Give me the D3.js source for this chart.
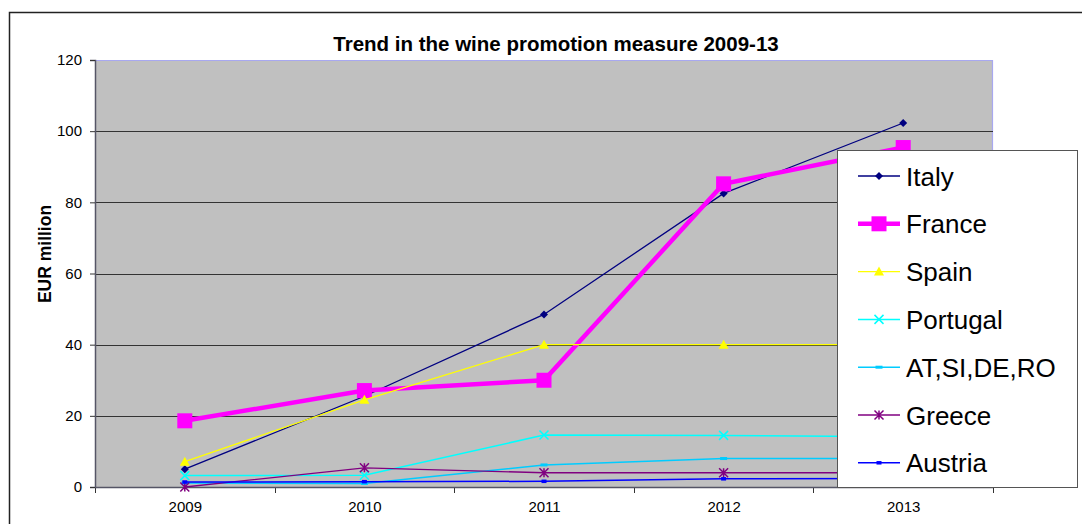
<!DOCTYPE html>
<html><head><meta charset="utf-8">
<script src="https://cdn.jsdelivr.net/npm/d3@7"></script>
<style>
html,body{margin:0;padding:0;background:#fff;overflow:hidden}
svg{display:block;font-family:"Liberation Sans",Arial,sans-serif}
</style></head>
<body><svg id="chart" width="1082" height="524"></svg>
<script>
const years = ["2009","2010","2011","2012","2013"];
const yTicks = [0,20,40,60,80,100,120];
const seriesNames = ["Italy","France","Spain","Portugal","AT,SI,DE,RO","Greece","Austria"];
const italy    = [5.0, 25.5, 48.5, 82.5, 102.3];
const france   = [18.6, 27.1, 30.0, 85.2, 95.4];
const spain    = [7.1, 24.5, 40.0, 40.0, 40.0];
const portugal = [3.2, 3.3, 14.6, 14.5, 14.1];
const atSiDeRo = [1.1, 1.0, 6.2, 8.0, 8.0];
const greece   = [0.0, 5.4, 4.0, 4.0, 4.0];
const austria  = [1.4, 1.5, 1.6, 2.3, 2.4];

const styles = {
  "Italy":       {color:"#000080", width:1.3, marker:"diamond", size:8},
  "France":      {color:"#FF00FF", width:4.5, marker:"square", size:15},
  "Spain":       {color:"#FFFF00", width:1.3, marker:"triangle", size:10},
  "Portugal":    {color:"#00FFFF", width:1.5, marker:"x", size:9},
  "AT,SI,DE,RO": {color:"#00CCFF", width:1.5, marker:"dash", size:7},
  "Greece":      {color:"#800080", width:1.3, marker:"star", size:9},
  "Austria":     {color:"#0000FF", width:1.5, marker:"smallsq", size:5}
};
const dataBy = {"Italy":italy,"France":france,"Spain":spain,"Portugal":portugal,
  "AT,SI,DE,RO":atSiDeRo,"Greece":greece,"Austria":austria};

const svg = d3.select("#chart");
const plot = {l:95, r:993, t:60, b:487};

// outer border
svg.append("rect").attr("x",9.5).attr("y",12.5).attr("width",1200).attr("height",700)
  .attr("fill","#fff").attr("stroke","#222").attr("stroke-width",1.5);

const x = d3.scalePoint().domain(years).range([plot.l, plot.r]).padding(0.5);
const xb = d3.scaleBand().domain(years).range([plot.l, plot.r]);
const y = d3.scaleLinear().domain([0,120]).range([plot.b, plot.t]);

// plot background
svg.append("rect").attr("x",plot.l).attr("y",plot.t).attr("width",plot.r-plot.l).attr("height",plot.b-plot.t)
  .attr("fill","#C0C0C0");
// top/right border lavender
svg.append("path").attr("d",`M${plot.l},${plot.t+0.5}H${plot.r-0.5}V${plot.b}`)
  .attr("fill","none").attr("stroke","#A8A8F0").attr("stroke-width",1.2);

// gridlines
svg.append("g").selectAll("line").data(yTicks.filter(v=>v>0 && v<120)).join("line")
  .attr("x1",plot.l).attr("x2",plot.r).attr("y1",d=>Math.round(y(d))+0.5).attr("y2",d=>Math.round(y(d))+0.5)
  .attr("stroke","#333").attr("stroke-width",1);

// y axis
const yAxis = svg.append("g").attr("transform",`translate(${plot.l},0)`)
  .call(d3.axisLeft(y).tickValues(yTicks).tickSize(5).tickPadding(8));
yAxis.select(".domain").attr("stroke","#555566").attr("stroke-width",1.5);
yAxis.selectAll(".tick line").attr("stroke","#333");
yAxis.selectAll("text").attr("font-size",15).attr("fill","#000")
  .attr("font-family","Liberation Sans, Arial, sans-serif");

// x axis labels
const xAxis = svg.append("g").attr("transform",`translate(0,${plot.b})`)
  .call(d3.axisBottom(x).tickSize(0).tickPadding(14));
xAxis.select(".domain").remove();
xAxis.selectAll("text").attr("font-size",15).attr("fill","#000")
  .attr("font-family","Liberation Sans, Arial, sans-serif");
// x tick marks at band edges
const edges = years.map(d=>xb(d)).concat([plot.r]);
svg.append("g").selectAll("line").data(edges).join("line")
  .attr("x1",d=>Math.round(d)+0.5).attr("x2",d=>Math.round(d)+0.5)
  .attr("y1",plot.b).attr("y2",plot.b+6).attr("stroke","#333");
svg.append("line").attr("x1",plot.l).attr("x2",plot.r).attr("y1",plot.b+0.5).attr("y2",plot.b+0.5)
  .attr("stroke","#555566").attr("stroke-width",1.5);

// titles
svg.append("text").attr("x",556).attr("y",51).attr("text-anchor","middle")
  .attr("font-size",20.5).attr("font-weight","bold").text("Trend in the wine promotion measure 2009-13");
svg.append("text").attr("transform","translate(51,254) rotate(-90)").attr("text-anchor","middle")
  .attr("font-size",17.5).attr("font-weight","bold").text("EUR million");

function drawMarker(g, type, cx, cy, color, s){
  const h = s/2;
  if(type==="diamond"){
    g.append("path").attr("d",`M${cx},${cy-h}L${cx+h},${cy}L${cx},${cy+h}L${cx-h},${cy}Z`).attr("fill",color);
  } else if(type==="square"){
    g.append("rect").attr("x",cx-h).attr("y",cy-h).attr("width",s).attr("height",s).attr("fill",color);
  } else if(type==="triangle"){
    g.append("path").attr("d",`M${cx},${cy-h}L${cx+h},${cy+h*0.8}L${cx-h},${cy+h*0.8}Z`).attr("fill",color);
  } else if(type==="x"){
    g.append("path").attr("d",`M${cx-h},${cy-h}L${cx+h},${cy+h}M${cx+h},${cy-h}L${cx-h},${cy+h}`)
      .attr("stroke",color).attr("stroke-width",1.5);
  } else if(type==="dash"){
    g.append("rect").attr("x",cx-h).attr("y",cy-1.5).attr("width",s).attr("height",3).attr("fill",color);
  } else if(type==="star"){
    g.append("path").attr("d",`M${cx-h},${cy-h}L${cx+h},${cy+h}M${cx+h},${cy-h}L${cx-h},${cy+h}M${cx},${cy-h}V${cy+h}`)
      .attr("stroke",color).attr("stroke-width",1.5);
  } else if(type==="smallsq"){
    g.append("rect").attr("x",cx-h).attr("y",cy-h*0.7).attr("width",s).attr("height",s*0.7).attr("fill",color);
  }
}

// series
const line = d3.line().x((d,i)=>x(years[i])).y(d=>y(d));
seriesNames.forEach(name=>{
  const st = styles[name], vals = dataBy[name];
  const g = svg.append("g");
  g.append("path").attr("d",line(vals)).attr("fill","none").attr("stroke",st.color)
    .attr("stroke-width",st.width).attr("stroke-linejoin","miter");
  vals.forEach((v,i)=>drawMarker(g, st.marker, x(years[i]), y(v), st.color, st.size));
});

// legend
const lg = svg.append("g");
lg.append("rect").attr("x",837.5).attr("y",150.5).attr("width",240).attr("height",337)
  .attr("fill","#fff").attr("stroke","#555").attr("stroke-width",1);
seriesNames.forEach((name,i)=>{
  const st = styles[name];
  const cy = 176 + i*47.8;
  lg.append("line").attr("x1",858).attr("x2",900).attr("y1",cy).attr("y2",cy)
    .attr("stroke",st.color).attr("stroke-width",st.width);
  drawMarker(lg, st.marker, 879, cy, st.color, st.size);
  lg.append("text").attr("x",906).attr("y",cy+9.5).attr("font-size",26).attr("fill","#000").text(name);
});
</script></body></html>
